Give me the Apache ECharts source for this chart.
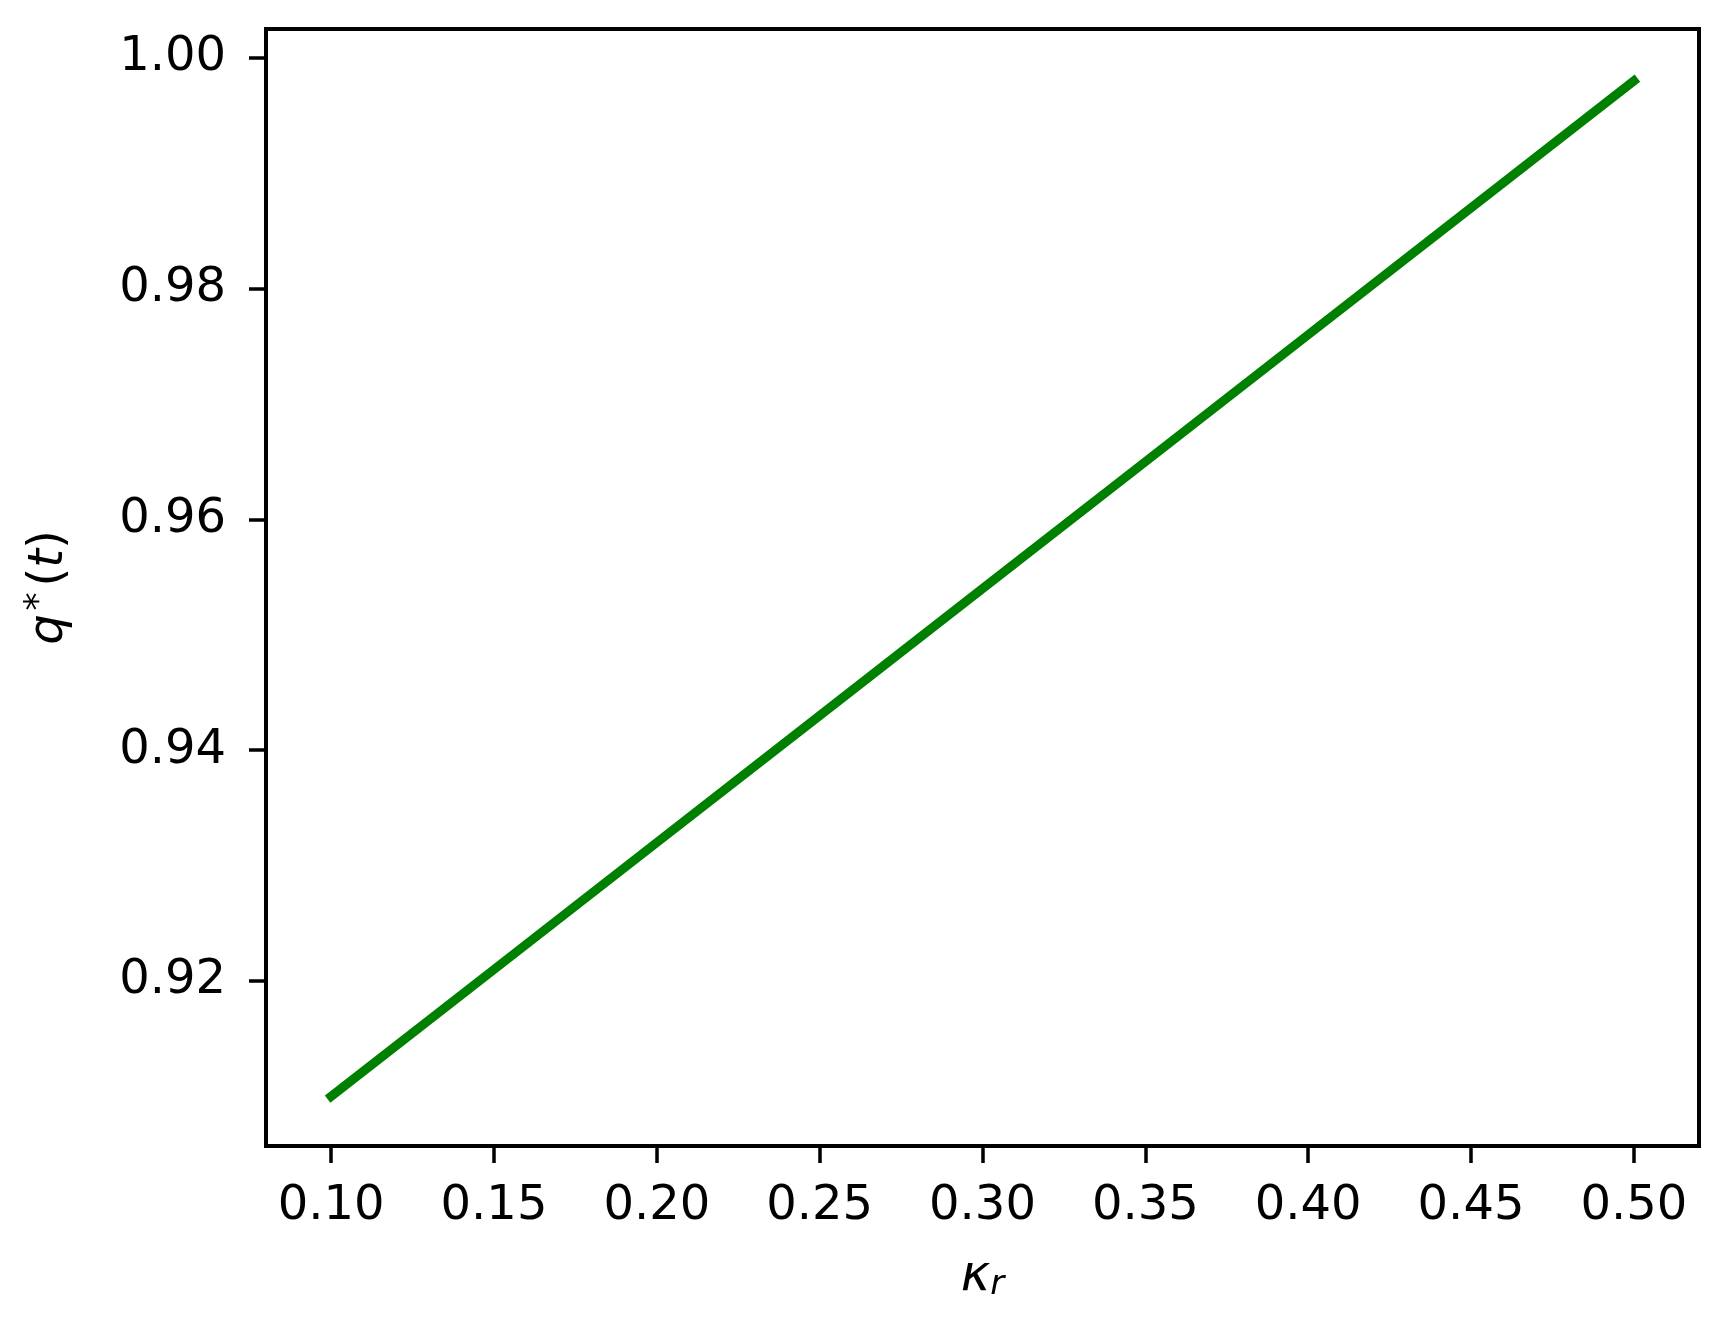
<!DOCTYPE html>
<html>
<head>
<meta charset="utf-8">
<script src="https://cdn.jsdelivr.net/npm/echarts@6/dist/echarts.min.js"></script>
<style>
  html, body { margin: 0; padding: 0; background: #fff; }
  #chart { width: 1718px; height: 1317px; }
</style>
</head>
<body>
<div id="chart"></div>
<script>
// kappa_r values and q*(t)
const kappaR = [0.10, 0.15, 0.20, 0.25, 0.30, 0.35, 0.40, 0.45, 0.50]
const qStar = [0.910, 0.921, 0.932, 0.943, 0.954, 0.965, 0.976, 0.987, 0.998]

const xTicks = [0.10, 0.15, 0.20, 0.25, 0.30, 0.35, 0.40, 0.45, 0.50]
const yTicks = [0.92, 0.94, 0.96, 0.98, 1.00]

const font = 'DejaVu Sans'
const ink = '#000'

const chart = echarts.init(document.getElementById('chart'))

chart.setOption({
  animation: false,
  backgroundColor: '#fff',
  grid: {
    left: 266,
    right: 19,
    top: 29,
    bottom: 171,
    show: true,
    borderColor: ink,
    borderWidth: 4,
  },
  xAxis: {
    type: 'value',
    min: 0.08,
    max: 0.52,
    splitLine: { show: false },
    axisLine: { show: true, onZero: false, lineStyle: { color: ink, width: 4 } },
    axisTick: {
      show: true,
      length: 17,
      inside: false,
      customValues: xTicks,
      lineStyle: { color: ink, width: 3.5 },
    },
    axisLabel: {
      customValues: xTicks,
      color: ink,
      fontFamily: font,
      fontSize: 48,
      margin: 37,
      formatter: v => v.toFixed(2),
    },
    name: '{i|κ}{sub|r}',
    nameLocation: 'middle',
    nameGap: 106,
    nameTextStyle: {
      rich: {
        i: { fontFamily: font, fontStyle: 'italic', fontSize: 50, color: ink },
        sub: { fontFamily: font, fontStyle: 'italic', fontSize: 34, color: ink, padding: [16, 0, 0, 0] },
      },
    },
  },
  yAxis: {
    type: 'value',
    min: 0.9057,
    max: 1.0025,
    splitLine: { show: false },
    axisLine: { show: true, onZero: false, lineStyle: { color: ink, width: 4 } },
    axisTick: {
      show: true,
      length: 17,
      inside: false,
      customValues: yTicks,
      lineStyle: { color: ink, width: 3.5 },
    },
    axisLabel: {
      customValues: yTicks,
      color: ink,
      fontFamily: font,
      fontSize: 48,
      margin: 40,
      formatter: v => v.toFixed(2),
    },
    name: '{i|q}{sup|*}{n|(}{i|t}{n|)}',
    nameLocation: 'middle',
    nameRotate: 90,
    nameGap: 188,
    nameTextStyle: {
      rich: {
        i: { fontFamily: font, fontStyle: 'italic', fontSize: 48, color: ink },
        n: { fontFamily: font, fontSize: 48, color: ink },
        sup: { fontFamily: font, fontSize: 36, color: ink, padding: [0, 6, 20, 4] },
      },
    },
  },
  series: [
    {
      type: 'line',
      data: kappaR.map((k, i) => [k, qStar[i]]),
      showSymbol: false,
      lineStyle: { color: '#008000', width: 9, cap: 'square' },
    },
  ],
})
</script>
</body>
</html>
